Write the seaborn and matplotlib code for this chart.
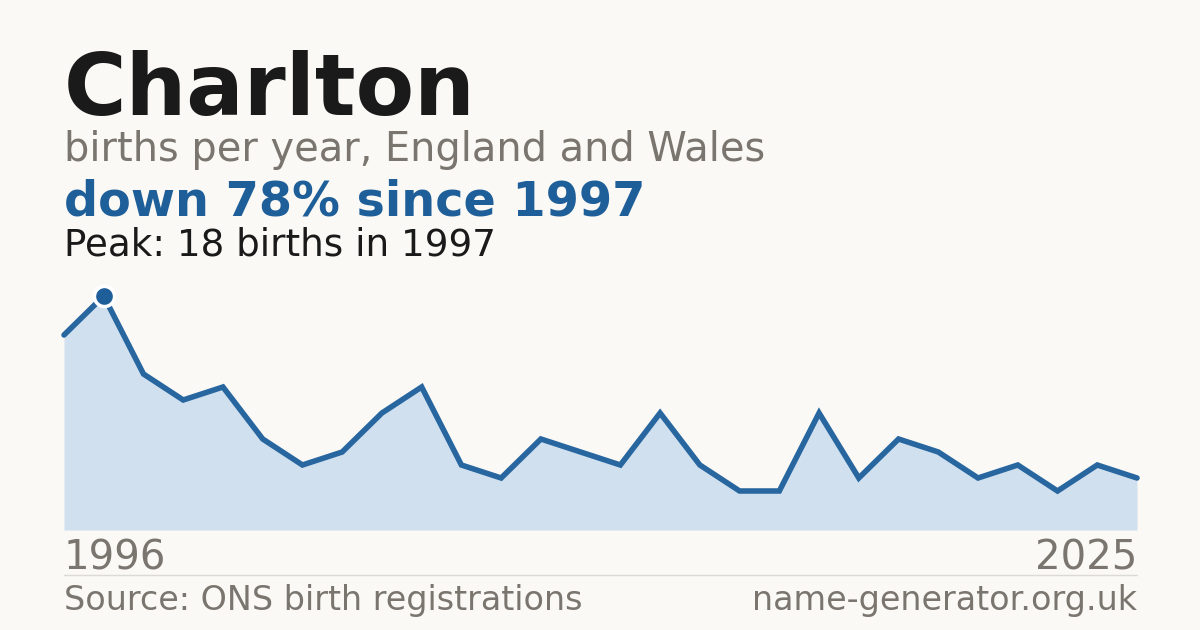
import matplotlib.pyplot as plt
import seaborn as sns
import pandas as pd
from matplotlib.lines import Line2D

# ========== data ==========
years = list(range(1996, 2024))
births = [15, 18, 12, 10, 11, 7, 5, 6, 9, 11, 5, 4, 7, 6, 5, 9, 5, 3, 3, 9, 4, 7, 6, 4, 5, 3, 5, 4]
first_label = '1996'
last_label = '2025'
peak_year = 1997
peak_value = 18

BG = '#faf9f5'
LINE = '#2866a0'
FILL = '#d0e0ef'
GREY = '#7a756e'

sns.set_theme(style='white')
plt.rcParams['font.family'] = ['DejaVu Sans']

df = pd.DataFrame({'year': years, 'births': births})

fig = plt.figure(figsize=(12, 6.3), dpi=100, facecolor=BG)
ax = fig.add_axes([64 / 1200, 1 - 530 / 630, 1073 / 1200, 234 / 630])
ax.set_facecolor(BG)

ax.fill_between(df['year'], df['births'], 0, color=FILL, linewidth=0)
sns.lineplot(data=df, x='year', y='births', ax=ax, color=LINE, linewidth=4,
             solid_joinstyle='miter', clip_on=False)
ax.scatter([peak_year], [peak_value], s=210, color='#1f5f99', edgecolor='white',
           linewidth=2.5, zorder=5, clip_on=False)

ax.set_xlim(years[0], years[-1])
ax.set_ylim(0, peak_value)
ax.set_xticks([])
ax.set_yticks([])
ax.set_xlabel('')
ax.set_ylabel('')
for s in ax.spines.values():
    s.set_visible(False)

# ========== texts ==========
L = 64 / 1200
fig.text(L, 1 - 115 / 630, 'Charlton', fontsize=61.4, fontweight='bold',
         color='#1a1a1a', va='baseline')
fig.text(L, 1 - 161 / 630, 'births per year, England and Wales', fontsize=28.7,
         color=GREY, va='baseline')
fig.text(L, 1 - 215 / 630, 'down 78% since 1997', fontsize=34.4, fontweight='bold',
         color='#1f5f99', va='baseline')
fig.text(L, 1 - 255 / 630, 'Peak: 18 births in 1997', fontsize=26.8,
         color='#1a1a1a', va='baseline')

fig.text(L, 1 - 569 / 630, first_label, fontsize=29, color=GREY, va='baseline')
fig.text(1137 / 1200, 1 - 569 / 630, last_label, fontsize=29, color=GREY,
         va='baseline', ha='right')
fig.add_artist(Line2D([L, 1137 / 1200], [1 - 575 / 630] * 2, color='#dcdad4',
                      linewidth=1, transform=fig.transFigure))
fig.text(L, 1 - 610 / 630, 'Source: ONS birth registrations', fontsize=24,
         color=GREY, va='baseline')
fig.text(1137 / 1200, 1 - 610 / 630, 'name-generator.org.uk', fontsize=24,
         color=GREY, va='baseline', ha='right')

fig.savefig('out.png', dpi=100, facecolor=BG)
